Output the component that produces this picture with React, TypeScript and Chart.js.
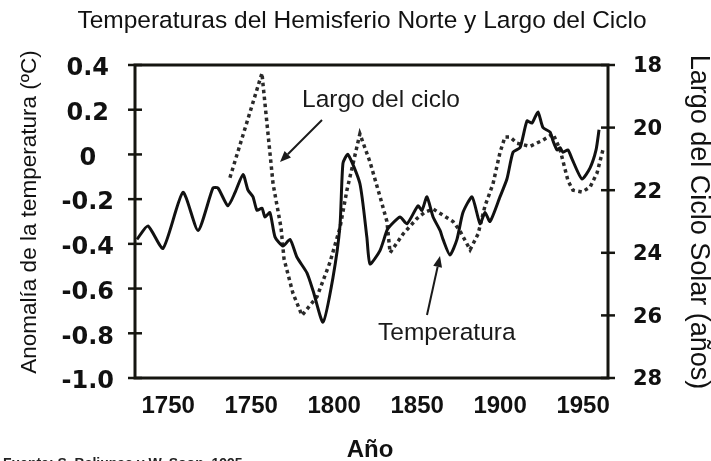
import React, { useEffect, useRef } from "react";
import { Chart, registerables } from "chart.js";

Chart.register(...registerables);

// Temperature anomaly (ºC), Northern Hemisphere
const tempYears = [
  1681.2, 1687.8, 1696.9, 1708.9, 1718, 1727, 1730, 1736, 1740.3, 1745.1, 1748.1, 1751.1,
  1753.5, 1756.5, 1758.3, 1761.3, 1764.4, 1769.2, 1773.4, 1777.6, 1783.6, 1787.3, 1793.3,
  1799.3, 1803.5, 1805.3, 1808.3, 1815.5, 1819.7, 1821.6, 1827.6, 1831.8, 1833.7, 1839.7,
  1843.9, 1850.5, 1852.9, 1855.9, 1859.6, 1863.8, 1865.6, 1869.8, 1874, 1877.6, 1883.1,
  1887.9, 1890.9, 1893.9, 1899.9, 1904.1, 1907.8, 1912, 1916.2, 1919.2, 1922.8, 1925.8,
  1930.1, 1931.9, 1934.3, 1936.1, 1937.9, 1940.9, 1943.3, 1949.3, 1954.2, 1957.8, 1959.6,
];
const tempValues = [
  -0.38, -0.32, -0.42, -0.17, -0.34, -0.15, -0.15, -0.23, -0.17, -0.09, -0.16, -0.19,
  -0.25, -0.24, -0.28, -0.26, -0.37, -0.41, -0.38, -0.46, -0.53, -0.61, -0.75,
  -0.55, -0.32, -0.04, 0.0, -0.13, -0.37, -0.49, -0.43, -0.34, -0.32, -0.28,
  -0.31, -0.23, -0.25, -0.19, -0.28, -0.34, -0.38, -0.45, -0.38, -0.26, -0.19,
  -0.31, -0.26, -0.3, -0.19, -0.11, 0.01, 0.03, 0.15, 0.14, 0.19, 0.12,
  0.1, 0.06, 0.02, 0.03, 0.01, 0.02, -0.02, -0.11, -0.06, 0.02, 0.11,
];

// Solar cycle length (years)
const cycleYears = [
  1737.2, 1756.5, 1757.1, 1763.2, 1768, 1769.8, 1775.2, 1780.6, 1789.7, 1797.5, 1803.5,
  1807.7, 1815.5, 1821.6, 1827.6, 1831.8, 1833.7, 1841.5, 1850, 1854.7, 1859.6, 1871.6,
  1875.8, 1881.9, 1886.7, 1890.9, 1895.7, 1899.9, 1902.9, 1906, 1910.2, 1918, 1925.8,
  1931.9, 1936.1, 1940.9, 1943.9, 1949.3, 1954.2, 1958.4, 1962,
];
const cycleValues = [
  21.6, 18.26, 18.6, 21.8, 23.2, 24.2, 25.3, 26.0, 25.4, 24.3, 23.2,
  22.0, 20.2, 21.1, 22.2, 23.0, 24.0, 23.4, 22.9, 22.7, 22.6, 23.0,
  23.3, 23.9, 23.4, 22.5, 21.8, 20.8, 20.3, 20.3, 20.5, 20.6, 20.4,
  20.2, 20.7, 21.7, 22.0, 22.06, 21.9, 21.45, 20.7,
];

const xTickValues = [1700, 1750, 1800, 1850, 1900, 1950];
const xTickLabels = ["1750", "1750", "1800", "1850", "1900", "1950"];

const SANS = "'Liberation Sans', Arial, sans-serif";
const TICKFONT = "'DejaVu Sans', sans-serif";

function arrow(ctx: CanvasRenderingContext2D, x1: number, y1: number, x2: number, y2: number) {
  const ang = Math.atan2(y2 - y1, x2 - x1);
  const hl = 11;
  const hw = 4.5;
  const bx = x2 - hl * Math.cos(ang);
  const by = y2 - hl * Math.sin(ang);
  ctx.beginPath();
  ctx.moveTo(x1, y1);
  ctx.lineTo(bx, by);
  ctx.stroke();
  ctx.beginPath();
  ctx.moveTo(x2, y2);
  ctx.lineTo(bx + hw * Math.sin(ang), by - hw * Math.cos(ang));
  ctx.lineTo(bx - hw * Math.sin(ang), by + hw * Math.cos(ang));
  ctx.closePath();
  ctx.fill();
}

export default function App() {
  const ref = useRef<HTMLCanvasElement>(null);

  useEffect(() => {
    document.body.style.margin = "0";
    const canvas = ref.current;
    if (!canvas) return;

    const overlay = {
      id: "overlay",
      afterDraw(chart: any) {
        const { ctx, chartArea: a, scales } = chart;
        ctx.save();
        // frame
        ctx.strokeStyle = "#151510";
        ctx.lineWidth = 3;
        ctx.strokeRect(a.left, a.top, a.right - a.left, a.bottom - a.top);
        // crossing tick marks
        ctx.lineWidth = 2.5;
        scales.y.ticks.forEach((t: any) => {
          const py = scales.y.getPixelForValue(t.value);
          ctx.beginPath();
          ctx.moveTo(a.left - 7, py);
          ctx.lineTo(a.left + 7, py);
          ctx.stroke();
        });
        scales.y2.ticks.forEach((t: any) => {
          const py = scales.y2.getPixelForValue(t.value);
          ctx.beginPath();
          ctx.moveTo(a.right - 7, py);
          ctx.lineTo(a.right + 7, py);
          ctx.stroke();
        });

        ctx.fillStyle = "#111";
        // title
        ctx.font = `24.5px ${SANS}`;
        ctx.textAlign = "center";
        ctx.textBaseline = "alphabetic";
        ctx.fillText("Temperaturas del Hemisferio Norte y Largo del Ciclo", 362, 28);

        // x axis title
        ctx.font = `bold 24px ${SANS}`;
        ctx.fillText("Año", 370, 457);

        // left axis title
        ctx.save();
        ctx.translate(36, 212);
        ctx.rotate(-Math.PI / 2);
        ctx.font = `22.5px ${SANS}`;
        ctx.fillText("Anomalía de la temperatura (ºC)", 0, 0);
        ctx.restore();

        // right axis title
        ctx.save();
        ctx.translate(691, 222);
        ctx.rotate(Math.PI / 2);
        ctx.font = `27px ${SANS}`;
        ctx.fillText("Largo del Ciclo Solar (años)", 0, 0);
        ctx.restore();

        // annotations
        ctx.fillStyle = "#1a1a1a";
        ctx.textAlign = "left";
        ctx.font = `24.5px ${SANS}`;
        ctx.fillText("Largo del ciclo", 302, 107);
        ctx.fillText("Temperatura", 378, 340);

        ctx.strokeStyle = "#1a1a1a";
        ctx.lineWidth = 2;
        arrow(ctx, 322, 120, 280, 162);
        arrow(ctx, 427, 315, 440, 256);

        // source (cut at bottom edge)
        ctx.fillStyle = "#222";
        ctx.font = `bold 14px ${SANS}`;
        ctx.textBaseline = "top";
        ctx.fillText("Fuente: S. Baliunas y W. Soon, 1995", 3, 457);

        ctx.restore();
      },
    };

    const chart = new Chart(canvas, {
      type: "line",
      data: {
        datasets: [
          {
            label: "Temperatura",
            data: tempYears.map((x, i) => ({ x, y: tempValues[i] })),
            yAxisID: "y",
            borderColor: "#111",
            borderWidth: 3,
            pointRadius: 0,
            tension: 0.2,
            fill: false,
          },
          {
            label: "Largo del ciclo",
            data: cycleYears.map((x, i) => ({ x, y: cycleValues[i] })),
            yAxisID: "y2",
            borderColor: "#2a2a2a",
            borderWidth: 3.5,
            borderDash: [3.5, 3.5],
            pointRadius: 0,
            tension: 0,
            fill: false,
          },
        ],
      },
      options: {
        animation: false,
        responsive: true,
        maintainAspectRatio: false,
        layout: { padding: { top: 65, left: 0, right: 0, bottom: 0 } },
        plugins: {
          legend: { display: false },
          title: { display: false },
          tooltip: { enabled: false },
        },
        scales: {
          x: {
            type: "linear",
            min: 1680,
            max: 1965,
            grid: { display: false, drawTicks: false },
            border: { display: false },
            afterBuildTicks: (scale: any) => {
              scale.ticks = xTickValues.map((v) => ({ value: v }));
            },
            afterFit: (scale: any) => {
              scale.height = 83;
            },
            ticks: {
              autoSkip: false,
              maxRotation: 0,
              padding: 14,
              color: "#111",
              font: { family: SANS, size: 24, weight: "bold" },
              callback: (_v: any, i: number) => xTickLabels[i],
            },
          },
          y: {
            type: "linear",
            position: "left",
            min: -1.0,
            max: 0.4,
            grid: { display: false, drawTicks: false },
            border: { display: false },
            afterFit: (scale: any) => {
              scale.width = 135;
            },
            ticks: {
              stepSize: 0.2,
              padding: 21,
              crossAlign: "center",
              labelOffset: 4,
              color: "#111",
              font: { family: TICKFONT, size: 24, weight: "bold" },
              callback: (v: any) => {
                const n = Math.round(Number(v) * 10) / 10;
                return n === 0 ? "0" : n.toFixed(1);
              },
            },
          },
          y2: {
            type: "linear",
            position: "right",
            min: 18,
            max: 28,
            reverse: true,
            grid: { display: false, drawTicks: false },
            border: { display: false },
            afterFit: (scale: any) => {
              scale.width = 103;
            },
            ticks: {
              stepSize: 2,
              padding: 25,
              labelOffset: 2,
              color: "#111",
              font: { family: TICKFONT, size: 21, weight: "bold" },
            },
          },
        },
      },
      plugins: [overlay],
    } as any);

    return () => chart.destroy();
  }, []);

  return (
    <div style={{ position: "absolute", left: 0, top: 0, width: 711, height: 461 }}>
      <canvas ref={ref} />
    </div>
  );
}
